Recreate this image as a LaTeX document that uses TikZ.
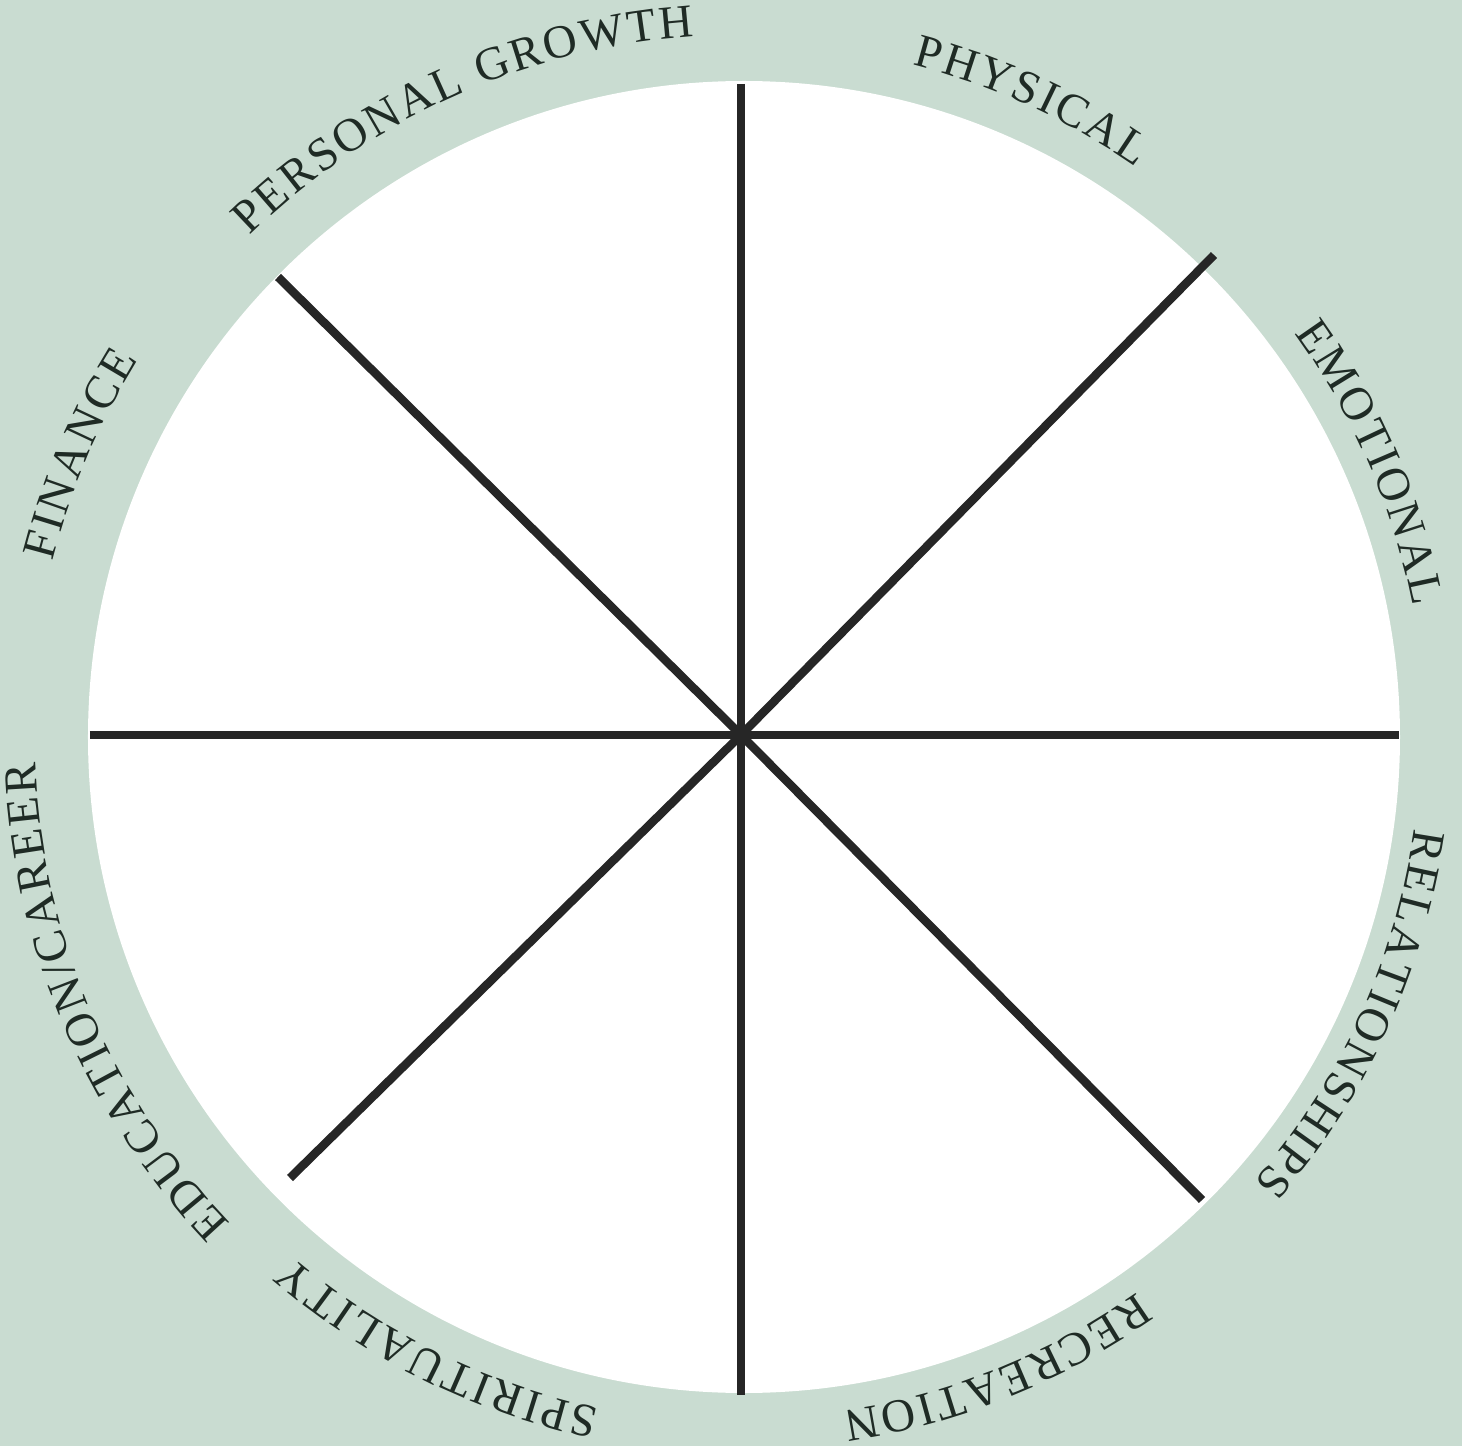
\documentclass[tikz,border=0pt]{standalone}
\usepackage{fontspec}
\usetikzlibrary{decorations.text,calc}
\newfontfamily\lblfont{Liberation Serif}
\definecolor{bgcol}{HTML}{C9DCD1}
\definecolor{txtcol}{HTML}{1F2B25}
\definecolor{spokecol}{HTML}{262626}
\newcommand\arclabel[3]{%
  \path[decorate,decoration={text effects along path,
      text={#1},
      text align=center,
      text effects/.cd,
        characters={text=txtcol,anchor=base,transform shape,inner sep=0pt},
        character widths={inner xsep=1.3pt,inner ysep=0pt}}]
    ($(c)+(#2+45:#3)$) arc[start angle=#2+45,end angle=#2-45,radius=#3];}
\begin{document}
\begin{tikzpicture}[x=1pt,y=1pt,
  spoke/.style={draw=spokecol,line width=8.5pt},
  labelfont/.style={font=\lblfont\fontsize{47}{52}\selectfont}]
\useasboundingbox (-741,-711) rectangle (721,735);
\fill[bgcol] (-741,-711) rectangle (721,735);
\coordinate (c) at (0,0);
\coordinate (dc) at (3,-2);
\fill[white] (dc) circle[radius=656];
% spoke ends
\coordinate (pN) at (0,651);
\coordinate (pS) at (0,-660);
\coordinate (pW) at (-651,0);
\coordinate (pE) at (658,0);
\coordinate (pNE) at (473,480);
\coordinate (pNW) at (-463,458);
\coordinate (pSW) at (-451,-443);
\coordinate (pSE) at (461,-465);
\draw[spoke] (pN) -- (pS);
\draw[spoke] (pW) -- (pE);
\draw[spoke] (c) -- (pNE);
\draw[spoke] (c) -- (pNW);
\draw[spoke] (c) -- (pSW);
\draw[spoke] (c) -- (pSE);
% labels
\begin{scope}[labelfont]
\arclabel{PERSONAL GROWTH}{114.2}{700}
\arclabel{PHYSICAL}{65.4}{692}
\arclabel{EMOTIONAL}{23.4}{684}
\arclabel{RELATIONSHIPS}{-24.5}{680}
\arclabel{RECREATION}{-68}{684}
\arclabel{SPIRITUALITY}{-116.3}{688}
\arclabel{EDUCATION/CAREER}{203}{706}
\arclabel{FINANCE}{157}{710}
\end{scope}
\end{tikzpicture}
\end{document}
